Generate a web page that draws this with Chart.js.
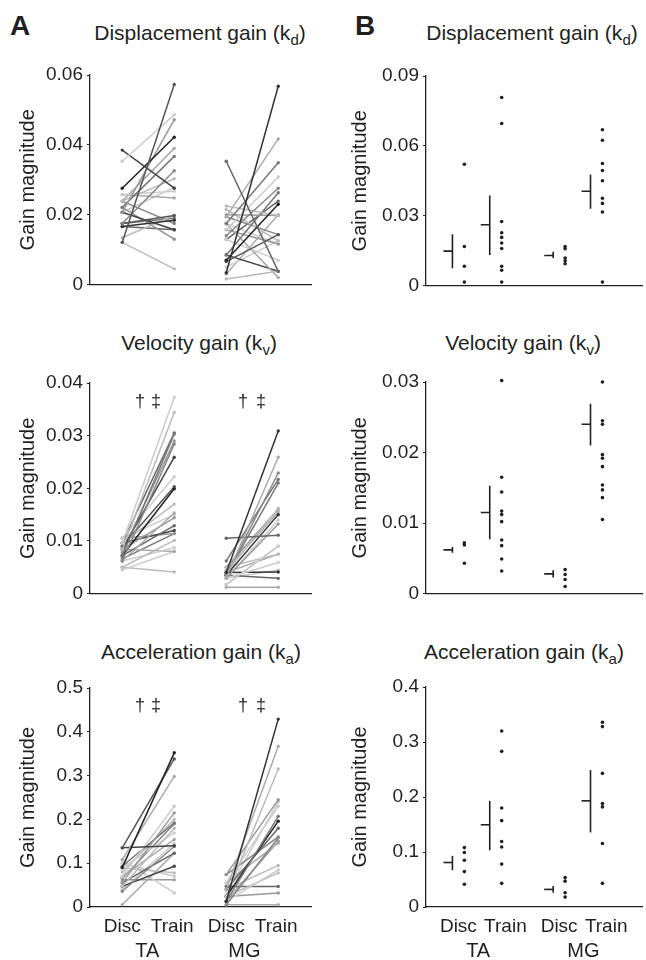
<!DOCTYPE html>
<html>
<head>
<meta charset="utf-8">
<script src="https://cdn.jsdelivr.net/npm/chart.js@4.4.0/dist/chart.umd.min.js"></script>
<style>
  body { margin: 0; background: #fff; width: 646px; height: 960px; position: relative; overflow: hidden;
         font-family: "Liberation Sans", Arial, Helvetica, sans-serif; color: #231f20; }
  canvas { position: absolute; }
  .title { position: absolute; font-size: 21px; line-height: 21px; white-space: nowrap; transform: translateX(-50%); }
  .title sub { font-size: 15px; vertical-align: -5px; line-height: 0; }
  .letter { position: absolute; font-weight: bold; font-size: 28px; line-height: 28px; }
  .mark { position: absolute; font-size: 18px; line-height: 18px; transform: translateX(-50%); }
</style>
</head>
<body>
<div class="letter" style="left:10px;top:12px">A</div>
<div class="letter" style="left:355px;top:12px">B</div>

<div class="title" style="left:200px;top:22px">Displacement gain (k<sub>d</sub>)</div>
<div class="title" style="left:532px;top:22px">Displacement gain (k<sub>d</sub>)</div>
<div class="title" style="left:199px;top:332px">Velocity gain (k<sub>v</sub>)</div>
<div class="title" style="left:523px;top:332px">Velocity gain (k<sub>v</sub>)</div>
<div class="title" style="left:201px;top:641px">Acceleration gain (k<sub>a</sub>)</div>
<div class="title" style="left:524px;top:641px">Acceleration gain (k<sub>a</sub>)</div>

<canvas id="a1" width="330" height="245" style="left:0;top:55px"></canvas>
<canvas id="a2" width="330" height="246" style="left:0;top:363px"></canvas>
<canvas id="a3" width="330" height="292" style="left:0;top:668px"></canvas>
<canvas id="b1" width="326" height="245" style="left:320px;top:56px"></canvas>
<canvas id="b2" width="326" height="247" style="left:320px;top:362px"></canvas>
<canvas id="b3" width="326" height="293" style="left:320px;top:667px"></canvas>

<div class="mark" style="left:140px;top:392px">†</div>
<div class="mark" style="left:156px;top:392px">‡</div>
<div class="mark" style="left:243px;top:392px">†</div>
<div class="mark" style="left:261px;top:392px">‡</div>
<div class="mark" style="left:140px;top:696px">†</div>
<div class="mark" style="left:156px;top:696px">‡</div>
<div class="mark" style="left:243px;top:696px">†</div>
<div class="mark" style="left:261px;top:696px">‡</div>

<script>
// ---- panel A: each subject, Disc -> Train ----
const kdTaDisc = [0.0121, 0.0353, 0.0276, 0.0385, 0.0121, 0.0207, 0.0221, 0.0175, 0.0239, 0.0258, 0.0166, 0.0175, 0.0207, 0.0221, 0.0258, 0.0134, 0.0239, 0.0166, 0.0207, 0.0239, 0.0175, 0.0221];
const kdTaTrain = [0.0573, 0.0486, 0.0422, 0.0276, 0.0045, 0.0472, 0.0367, 0.0326, 0.0303, 0.0267, 0.0184, 0.0198, 0.0157, 0.0130, 0.0248, 0.0198, 0.0175, 0.0157, 0.0278, 0.0390, 0.0190, 0.0130];
const kdMgDisc = [0.0034, 0.0353, 0.0070, 0.0194, 0.0175, 0.0157, 0.0140, 0.0225, 0.0200, 0.0085, 0.0016, 0.0066, 0.0129, 0.0215, 0.0175, 0.0157, 0.0085, 0.0194, 0.0050, 0.0129, 0.0175, 0.0030];
const kdMgTrain = [0.0568, 0.0038, 0.0230, 0.0417, 0.0349, 0.0308, 0.0276, 0.0198, 0.0198, 0.0263, 0.0038, 0.0143, 0.0070, 0.0125, 0.0020, 0.0116, 0.0038, 0.0143, 0.0125, 0.0239, 0.0116, 0.0200];

const kvTaDisc = [0.0096, 0.0084, 0.0072, 0.0062, 0.0084, 0.0105, 0.0072, 0.0096, 0.0062, 0.0084, 0.0072, 0.0096, 0.0105, 0.0050, 0.0062, 0.0084, 0.0045, 0.0050, 0.0096, 0.0078, 0.0090, 0.0066, 0.0105];
const kvTaTrain = [0.0373, 0.0344, 0.0303, 0.0284, 0.0259, 0.0222, 0.0199, 0.0170, 0.0153, 0.0144, 0.0129, 0.0120, 0.0114, 0.0101, 0.0087, 0.0080, 0.0080, 0.0041, 0.0305, 0.0290, 0.0203, 0.0114, 0.0150];
const kvMgDisc = [0.0040, 0.0030, 0.0035, 0.0062, 0.0105, 0.0040, 0.0035, 0.0029, 0.0017, 0.0050, 0.0029, 0.0040, 0.0035, 0.0012, 0.0045, 0.0029, 0.0017, 0.0035, 0.0050, 0.0029, 0.0040];
const kvMgTrain = [0.0309, 0.0259, 0.0229, 0.0217, 0.0111, 0.0162, 0.0150, 0.0132, 0.0090, 0.0075, 0.0059, 0.0041, 0.0029, 0.0012, 0.0155, 0.0140, 0.0090, 0.0210, 0.0160, 0.0045, 0.0075];

const kaTaDisc = [0.090, 0.135, 0.108, 0.135, 0.070, 0.055, 0.093, 0.047, 0.089, 0.070, 0.036, 0.055, 0.047, 0.089, 0.100, 0.005, 0.108, 0.062, 0.080, 0.040, 0.065];
const kaTaTrain = [0.352, 0.338, 0.298, 0.140, 0.230, 0.215, 0.192, 0.180, 0.169, 0.154, 0.138, 0.123, 0.093, 0.078, 0.070, 0.123, 0.032, 0.062, 0.200, 0.145, 0.190];
const kaMgDisc = [0.013, 0.040, 0.024, 0.074, 0.055, 0.013, 0.024, 0.040, 0.005, 0.055, 0.013, 0.024, 0.047, 0.024, 0.005, 0.074, 0.030, 0.013, 0.040];
const kaMgTrain = [0.429, 0.367, 0.315, 0.245, 0.230, 0.207, 0.196, 0.180, 0.158, 0.146, 0.085, 0.078, 0.047, 0.032, 0.005, 0.160, 0.240, 0.150, 0.095];

// grey level of each subject's line
const kdTaShade = ['#555', '#ccc', '#222', '#444', '#bbb', '#999', '#777', '#888', '#bbb', '#ccc', '#333', '#555', '#444', '#999', '#aaa', '#bbb', '#888', '#666', '#ccc', '#aaa', '#777', '#ccc'];
const kdMgShade = ['#333', '#666', '#222', '#aaa', '#777', '#ccc', '#888', '#bbb', '#999', '#777', '#bbb', '#555', '#ccc', '#bbb', '#aaa', '#999', '#444', '#888', '#ccc', '#666', '#ccc', '#aaa'];
const kvTaShade = ['#ccc', '#bbb', '#777', '#888', '#444', '#ccc', '#222', '#bbb', '#aaa', '#999', '#666', '#444', '#999', '#bbb', '#ccc', '#aaa', '#ccc', '#bbb', '#666', '#999', '#555', '#777', '#ccc'];
const kvMgShade = ['#333', '#aaa', '#888', '#777', '#666', '#bbb', '#333', '#999', '#ccc', '#bbb', '#ccc', '#333', '#666', '#aaa', '#aaa', '#ccc', '#bbb', '#777', '#999', '#ccc', '#aaa'];
const kaTaShade = ['#222', '#555', '#aaa', '#444', '#ccc', '#999', '#777', '#bbb', '#ccc', '#aaa', '#888', '#666', '#444', '#bbb', '#ccc', '#aaa', '#ccc', '#999', '#bbb', '#ccc', '#888'];
const kaMgShade = ['#333', '#aaa', '#bbb', '#999', '#ccc', '#777', '#222', '#666', '#888', '#aaa', '#ccc', '#bbb', '#666', '#999', '#aaa', '#888', '#ccc', '#999', '#bbb'];

// ---- panel B: groups TA Disc, TA Train, MG Disc, MG Train ----
const bKdMean = [0.0148, 0.0261, 0.0129, 0.0405];
const bKdLow = [0.0074, 0.0131, 0.0118, 0.0330];
const bKdHigh = [0.0220, 0.0387, 0.0145, 0.0477];
const bKdDots = [
  [0.0521, 0.0168, 0.0083, 0.0015],
  [0.0808, 0.0696, 0.0275, 0.0227, 0.0207, 0.0183, 0.0159, 0.0083, 0.0066, 0.0015],
  [0.0168, 0.0158, 0.0118, 0.0107, 0.0094],
  [0.0669, 0.0624, 0.0524, 0.0494, 0.0450, 0.0375, 0.0353, 0.0316, 0.0015]
];
const bKvMean = [0.0062, 0.0115, 0.0028, 0.0240];
const bKvLow = [0.0058, 0.0077, 0.0023, 0.0210];
const bKvHigh = [0.0066, 0.0153, 0.0033, 0.0269];
const bKvDots = [
  [0.0072, 0.0069, 0.0043],
  [0.0302, 0.0165, 0.0144, 0.0117, 0.0112, 0.0102, 0.0076, 0.0068, 0.0049, 0.0032],
  [0.0034, 0.0027, 0.0020, 0.0010],
  [0.0300, 0.0245, 0.0240, 0.0197, 0.0192, 0.0180, 0.0154, 0.0147, 0.0136, 0.0105]
];
const bKaMean = [0.0809, 0.1495, 0.032, 0.193];
const bKaLow = [0.0669, 0.103, 0.026, 0.1356];
const bKaHigh = [0.093, 0.193, 0.038, 0.249];
const bKaDots = [
  [0.108, 0.099, 0.085, 0.0644, 0.0413],
  [0.320, 0.283, 0.180, 0.157, 0.119, 0.109, 0.078, 0.043],
  [0.0535, 0.047, 0.026, 0.018],
  [0.336, 0.328, 0.243, 0.188, 0.182, 0.1155, 0.043]
];

// ---- ticks and labels ----
const kdTicksA = [0, 0.02, 0.04, 0.06];
const kvTicksA = [0, 0.01, 0.02, 0.03, 0.04];
const kaTicksA = [0, 0.1, 0.2, 0.3, 0.4, 0.5];
const kdTicksB = [0, 0.03, 0.06, 0.09];
const kvTicksB = [0, 0.01, 0.02, 0.03];
const kaTicksB = [0, 0.1, 0.2, 0.3, 0.4];
const conditionLabels = ['Disc', 'Train', 'Disc', 'Train'];
const muscleLabels = ['TA', 'MG'];

const FONT = '"Liberation Sans", Arial, Helvetica, sans-serif';
const INK = '#231f20';

function fmt(v, dec) {
  return v === 0 ? '0' : v.toFixed(dec);
}

function yScale(ticks, dec, width) {
  return {
    min: 0,
    max: ticks[ticks.length - 1],
    afterBuildTicks: (s) => { s.ticks = ticks.map((v) => ({ value: v })); },
    afterFit: (s) => { s.width = width; },
    grid: { drawOnChartArea: false, tickLength: 3, color: INK, lineWidth: 1 },
    border: { color: INK, width: 1.3 },
    ticks: { color: INK, padding: 4, font: { family: FONT, size: 19 }, callback: (v) => fmt(v, dec) },
    title: { display: true, text: 'Gain magnitude', color: INK, font: { family: FONT, size: 20 }, padding: { top: 4, bottom: 4 } }
  };
}

function xScales(min, max, showLabels, tickPos, groupPos) {
  const x = {
    type: 'linear', min, max,
    grid: { display: false, drawTicks: false },
    border: { color: INK, width: 1.3 },
    ticks: { display: false }
  };
  if (!showLabels) {
    x.afterFit = (s) => { s.height = 0; };
    return { x };
  }
  x.ticks = { display: true, color: INK, padding: 8, maxRotation: 0, autoSkip: false,
              font: { family: FONT, size: 19 }, callback: (v, i) => conditionLabels[i] };
  x.afterBuildTicks = (s) => { s.ticks = tickPos.map((v) => ({ value: v })); };
  x.afterFit = (s) => { s.height = 30; };
  const g = {
    type: 'linear', min, max, position: 'bottom', weight: 1,
    grid: { display: false, drawTicks: false },
    border: { display: false },
    afterBuildTicks: (s) => { s.ticks = groupPos.map((v) => ({ value: v })); },
    afterFit: (s) => { s.height = 23; },
    ticks: { color: INK, padding: 2, maxRotation: 0, autoSkip: false,
             font: { family: FONT, size: 20 }, callback: (v, i) => muscleLabels[i] }
  };
  return { x, g };
}

function pairedChart(id, taDisc, taTrain, taShade, mgDisc, mgTrain, mgShade, ticks, dec, showLabels) {
  const datasets = [];
  const add = (disc, train, shade, x0) => {
    disc.forEach((d, i) => {
      datasets.push({
        data: [{ x: x0, y: d }, { x: x0 + 1, y: train[i] }],
        showLine: true,
        clip: false,
        borderColor: shade[i],
        backgroundColor: shade[i],
        borderWidth: 1.5,
        pointRadius: 1.7,
        pointBorderWidth: 0
      });
    });
  };
  add(taDisc, taTrain, taShade, 0);
  add(mgDisc, mgTrain, mgShade, 2);

  new Chart(document.getElementById(id), {
    type: 'scatter',
    data: { datasets },
    options: {
      responsive: false,
      animation: false,
      layout: { padding: { left: 12, right: 19, top: 20, bottom: showLabels ? 0 : 6 } },
      plugins: { legend: { display: false }, tooltip: { enabled: false } },
      scales: {
        ...xScales(-0.62, 3.63, showLabels, [0, 0.96, 2, 2.96], [0.48, 2.35]),
        y: yScale(ticks, dec, 78)
      }
    }
  });
}

const groupX = [1, 2, 3.7, 4.7];

function summaryChart(id, mean, low, high, dots, ticks, dec, showLabels) {
  const datasets = [];
  const barX = (g) => groupX[g] - 0.16;
  dots.forEach((vals, g) => {
    datasets.push({
      data: vals.map((v) => ({ x: groupX[g] + 0.16, y: v })),
      clip: false,
      backgroundColor: INK,
      pointRadius: 1.8,
      pointBorderWidth: 0
    });
  });
  mean.forEach((m, g) => {
    datasets.push({
      data: [{ x: barX(g), y: low[g] }, { x: barX(g), y: high[g] }],
      showLine: true, borderColor: INK, borderWidth: 1.6, pointRadius: 0
    });
    datasets.push({
      data: [{ x: barX(g) - 0.24, y: m }, { x: barX(g), y: m }],
      showLine: true, borderColor: INK, borderWidth: 1.6, pointRadius: 0
    });
  });

  new Chart(document.getElementById(id), {
    type: 'scatter',
    data: { datasets },
    options: {
      responsive: false,
      animation: false,
      layout: { padding: { left: 24, right: 0, top: 20, bottom: showLabels ? 0 : 6 } },
      plugins: { legend: { display: false }, tooltip: { enabled: false } },
      scales: {
        ...xScales(0.132, 5.92, showLabels, [1, 2.26, 3.7, 4.96], [1.53, 4.35]),
        y: yScale(ticks, dec, 82)
      }
    }
  });
}

pairedChart('a1', kdTaDisc, kdTaTrain, kdTaShade, kdMgDisc, kdMgTrain, kdMgShade, kdTicksA, 2, false);
pairedChart('a2', kvTaDisc, kvTaTrain, kvTaShade, kvMgDisc, kvMgTrain, kvMgShade, kvTicksA, 2, false);
pairedChart('a3', kaTaDisc, kaTaTrain, kaTaShade, kaMgDisc, kaMgTrain, kaMgShade, kaTicksA, 1, true);

summaryChart('b1', bKdMean, bKdLow, bKdHigh, bKdDots, kdTicksB, 2, false);
summaryChart('b2', bKvMean, bKvLow, bKvHigh, bKvDots, kvTicksB, 2, false);
summaryChart('b3', bKaMean, bKaLow, bKaHigh, bKaDots, kaTicksB, 1, true);
</script>
</body>
</html>
